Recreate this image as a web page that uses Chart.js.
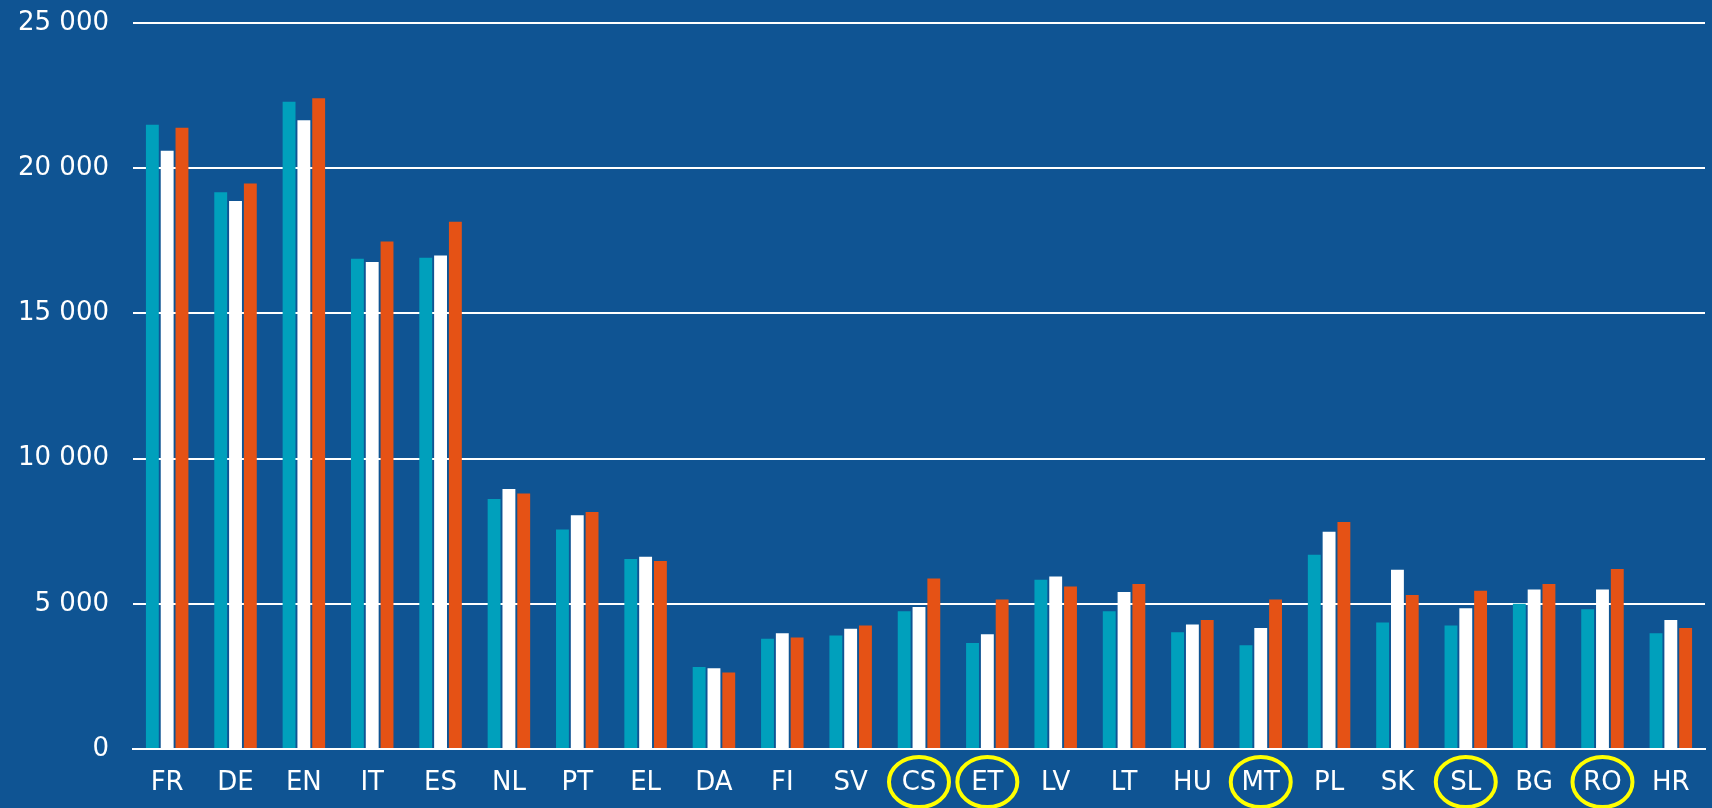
<!DOCTYPE html>
<html>
<head>
<meta charset="utf-8">
<script src="https://cdn.jsdelivr.net/npm/chart.js@4/dist/chart.umd.min.js"></script>
<style>
  html, body { margin: 0; padding: 0; background: #0f5493; }
  #wrap { width: 1712px; height: 808px; }
</style>
</head>
<body>
<div id="wrap"><canvas id="myChart"></canvas></div>
<script>
// language codes on the x axis
const languages = ["FR","DE","EN","IT","ES","NL","PT","EL","DA","FI","SV","CS","ET","LV","LT","HU","MT","PL","SK","SL","BG","RO","HR"];

// three series
const seriesA = [21500,19170,22290,16880,16920,8610,7560,6540,2820,3800,3910,4740,3650,5830,4740,4020,3570,6690,4360,4250,5000,4810,3990];
const seriesB = [20600,18870,21650,16770,16990,8950,8050,6620,2780,3990,4140,4890,3950,5940,5410,4290,4170,7480,6170,4850,5490,5490,4440];
const seriesC = [21390,19470,22410,17480,18160,8800,8160,6470,2630,3840,4250,5870,5150,5600,5680,4440,5150,7820,5300,5450,5680,6200,4170];

const yTicks = [0,5000,10000,15000,20000,25000];

// labels circled in yellow
const circled = ["CS","ET","MT","SL","RO"];

const labelFont = { family: "'DejaVu Sans', Verdana, sans-serif", size: 26 };

const circlePlugin = {
    id: "circles",
    afterDraw(chart) {
        const ctx = chart.ctx;
        const x = chart.scales.x;
        ctx.save();
        ctx.strokeStyle = "#ffff00";
        ctx.lineWidth = 4;
        circled.forEach(code => {
            const i = languages.indexOf(code);
            const cx = x.getPixelForValue(i);
            ctx.beginPath();
            ctx.ellipse(cx, 782, 30, 25, 0, 0, Math.PI * 2);
            ctx.stroke();
        });
        ctx.restore();
    }
};

new Chart(document.getElementById("myChart"), {
    type: "bar",
    data: {
        labels: languages,
        datasets: [
            { label: "A", data: seriesA, backgroundColor: "#00a0bc" },
            { label: "B", data: seriesB, backgroundColor: "#ffffff" },
            { label: "C", data: seriesC, backgroundColor: "#e55215" },
        ],
    },
    options: {
        responsive: true,
        maintainAspectRatio: false,
        animation: false,
        layout: { padding: { top: 23, right: 7, bottom: 9, left: 0 } },
        datasets: { bar: { categoryPercentage: 0.65, barPercentage: 0.87 } },
        plugins: {
            legend: { display: false },
            tooltip: { enabled: false },
        },
        scales: {
            x: {
                afterFit(axis) { axis.height = 50; },
                grid: { display: false, drawTicks: false },
                border: { display: true, color: "#ffffff", width: 2 },
                ticks: { color: "#ffffff", font: labelFont, padding: 19, maxRotation: 0, autoSkip: false },
            },
            y: {
                min: 0,
                max: 25000,
                afterFit(axis) { axis.width = 133; axis.paddingTop = 0; axis.paddingBottom = 0; },
                afterBuildTicks(axis) { axis.ticks = yTicks.map(v => ({ value: v })); },
                grid: { color: "#ffffff", lineWidth: 2, drawTicks: false },
                border: { display: false },
                ticks: {
                    color: "#ffffff",
                    font: labelFont,
                    padding: 24,
                    callback: v => String(v).replace(/\B(?=(\d{3})+(?!\d))/g, " "),
                },
            },
        },
    },
    plugins: [circlePlugin],
});
</script>
</body>
</html>
